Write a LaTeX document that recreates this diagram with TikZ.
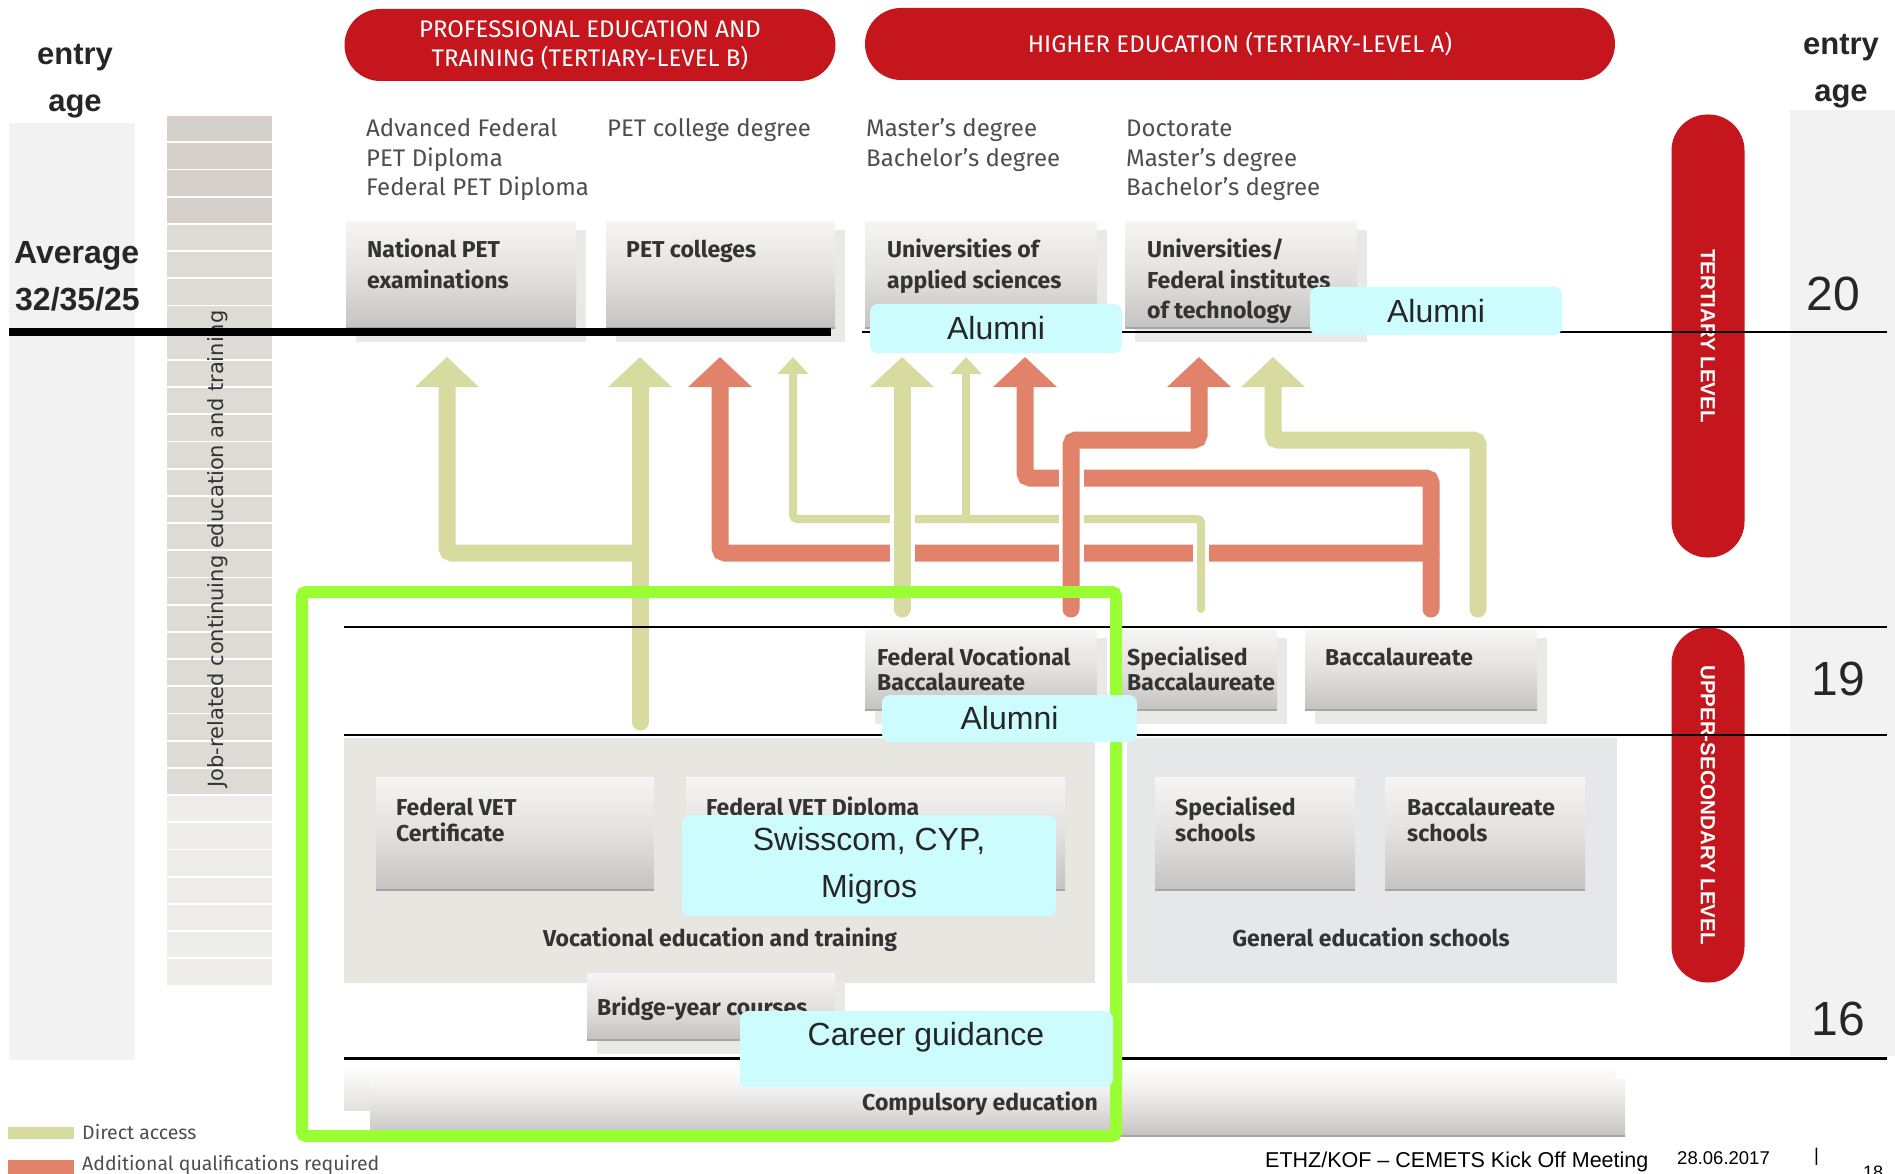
\documentclass[tikz,border=0pt]{standalone}
\usepackage{fontspec}
\setmainfont{Liberation Sans}
\newfontfamily\din{Fira Sans}
\newfontfamily\verd{DejaVu Sans}
\usetikzlibrary{arrows.meta}

\definecolor{pmred}{HTML}{C4161C}
\definecolor{cDirect}{HTML}{D8DBA0}
\definecolor{cAdd}{HTML}{E0836A}
\definecolor{alum}{HTML}{CCFCFD}
\definecolor{lime}{HTML}{99FF33}
\definecolor{colgrey}{HTML}{F2F2F2}
\definecolor{vetbg}{HTML}{E8E6E1}
\definecolor{genbg}{HTML}{E6E7E9}
\definecolor{boxtop}{HTML}{F6F5F3}
\definecolor{boxmid}{HTML}{E2E1DF}
\definecolor{boxbot}{HTML}{C4C3C1}
\definecolor{boxline}{HTML}{A6A6A4}
\definecolor{boxshadow}{HTML}{E9E9E7}
\definecolor{txt}{HTML}{333333}
\definecolor{txtl}{HTML}{4E4E4E}
\definecolor{jobA}{HTML}{D5D1CA}
\definecolor{jobB}{HTML}{DEDBD6}
\definecolor{jobC}{HTML}{EEEDEA}

% shaded box with drop shadow: name, x0, y0, x1, y1 (y grows downwards)
\newcommand\eduBox[5]{%
  \fill[boxshadow] ({#2+10},{#3+8}) rectangle ({#4+10},{#5+14});
  \node[edubox, minimum width={(#4)-(#2)}, minimum height={(#5)-(#3)},
        anchor=north west] (#1) at (#2,#3) {};
  \draw[boxedge] (#1.south west) -- (#1.south east);
}
% same without shadow
\newcommand\eduBoxFlat[5]{%
  \node[edubox, minimum width={(#4)-(#2)}, minimum height={(#5)-(#3)},
        anchor=north west] (#1) at (#2,#3) {};
  \draw[boxedge] (#1.south west) -- (#1.south east);
}

\begin{document}
\begin{tikzpicture}[x=1pt,y=-1pt,
  banner/.style={fill=pmred, rounded corners=36pt, text=white,
    font=\din\fontsize{24}{29}\selectfont, align=center, inner sep=0pt,
    minimum height=72pt},
  vpill/.style={fill=pmred, rounded corners=36pt, text=white,
    font=\bfseries\fontsize{20.5}{20.5}\selectfont, inner sep=0pt,
    minimum height=73pt, rotate=-90},
  edubox/.style={top color=boxtop, bottom color=boxbot, middle color=boxmid,
    inner sep=0pt, outer sep=0pt, draw=none},
  boxedge/.style={draw=boxline, line width=2pt},
  boxtxt/.style={font=\din\bfseries\fontsize{23}{30}\selectfont, text=txt,
    anchor=base west, align=left, inner sep=0pt},
  degtxt/.style={font=\din\fontsize{24}{29.5}\selectfont, text=txtl,
    anchor=base west, align=left, inner sep=0pt},
  captxt/.style={font=\din\bfseries\fontsize{23}{26}\selectfont, text=txt,
    anchor=base, inner sep=0pt},
  alumbox/.style={fill=alum, rounded corners=8pt, inner sep=0pt,
    font=\fontsize{32}{47}\selectfont, text=black!85, align=center},
  dirarrow/.style={draw=cDirect, line width=17pt, rounded corners=5pt,
    line cap=round, -{Triangle[width=62pt,length=30pt]}},
  addarrow/.style={draw=cAdd, line width=17pt, rounded corners=5pt,
    line cap=round, -{Triangle[width=62pt,length=30pt]}},
  thinarrow/.style={draw=cDirect, line width=8pt, rounded corners=4pt,
    line cap=round, -{Triangle[width=30pt,length=17pt]}},
  whitegap/.style={draw=white, line width=#1},
  rule/.style={draw=black, line width=#1},
  agetxt/.style={font=\bfseries\fontsize{31}{31}\selectfont, anchor=base, text=black!85},
  agenum/.style={font=\fontsize{48}{48}\selectfont, text=black!85},
  legtxt/.style={font=\din\fontsize{19.5}{22}\selectfont, text=txtl, anchor=base west, inner sep=0pt}
]
\useasboundingbox (0,0) rectangle (1895,1174);
\fill[white] (0,0) rectangle (1895,1174);

% ---------- side columns ----------
\fill[colgrey] (9,123) rectangle (135,1060);
\fill[colgrey] (1790,110) rectangle (1895,1056);
\node[agetxt] (entryL) at (75,65) {entry};
\node[agetxt] (ageL) at (75,112) {age};
\node[agetxt] (entryR) at (1841,55) {entry};
\node[agetxt] (ageR) at (1841,102) {age};
\node[font=\bfseries\fontsize{32}{32}\selectfont, anchor=base west, inner sep=0pt, text=black!85] (avg) at (14,264) {Average};
\node[font=\bfseries\fontsize{32}{32}\selectfont, anchor=base west, inner sep=0pt, text=black!85] (avgval) at (15,311) {32/35/25};
\node[agenum] (age20) at (1833,294) {20};
\node[agenum] (age19) at (1838,679) {19};
\node[agenum] (age16) at (1838,1019) {16};

% ---------- job-related continuing education column ----------
\foreach \i in {0,...,31}{
  \pgfmathsetmacro\ya{116+27.2*\i}
  \pgfmathsetmacro\yb{\ya+25.4}
  \pgfmathtruncatemacro\tone{\i<4 ? 0 : (\i<25 ? 1 : 2)}
  \ifcase\tone \def\cc{jobA}\or\def\cc{jobB}\else\def\cc{jobC}\fi
  \fill[\cc] (167,\ya) rectangle (272,\yb);
}
\node[rotate=90, anchor=base, inner sep=0pt, font=\verd\fontsize{21}{21}\selectfont, text=black!80] (jobtxt) at (223,549) {Job-related continuing education and training};

% ---------- banners and level pills ----------
\node[banner, minimum width=491pt] (petban) at (590,45) {PROFESSIONAL EDUCATION AND\\TRAINING (TERTIARY-LEVEL B)};
\node[banner, minimum width=750pt] (heban) at (1240,44) {HIGHER EDUCATION (TERTIARY-LEVEL A)};
\node[vpill, minimum width=443pt] (tert) at (1708,336) {TERTIARY LEVEL};
\node[vpill, minimum width=355pt] (upsec) at (1708,805) {UPPER-SECONDARY LEVEL};

% ---------- degrees (anchor = baseline of the last line) ----------
\node[degtxt] (degA) at (366,196) {Advanced Federal\\PET Diploma\\Federal PET Diploma};
\node[degtxt] (degB) at (607,137) {PET college degree};
\node[degtxt] (degC) at (866,166.5) {Master’s degree\\Bachelor’s degree};
\node[degtxt] (degD) at (1126,196) {Doctorate\\Master’s degree\\Bachelor’s degree};

% ---------- tertiary institutions ----------
\eduBox{natpet}{346}{222}{576}{328}
\eduBox{petcol}{606}{222}{835}{328}
\eduBox{uas}{865}{222}{1097}{328}
\eduBox{uni}{1125}{222}{1357}{328}
\node[boxtxt] at (367,288) {National PET\\examinations};
\node[boxtxt] at (626,258) {PET colleges};
\node[boxtxt] at (887,288) {Universities of\\applied sciences};
\node[boxtxt] at (1147,318) {Universities/\\Federal institutes\\of technology};

% ---------- upper-secondary qualifications ----------
\eduBox{fvb}{865}{630}{1097}{710}
\eduBox{sb}{1120}{630}{1277}{710}
\eduBox{bacc}{1305}{630}{1537}{710}
\node[boxtxt, font=\din\bfseries\fontsize{23}{25}\selectfont] at (877,690) {Federal Vocational\\Baccalaureate};
\node[boxtxt, font=\din\bfseries\fontsize{23}{25}\selectfont] at (1127,690) {Specialised\\Baccalaureate};
\node[boxtxt] at (1325,665) {Baccalaureate};

% ---------- schools ----------
\fill[vetbg] (344,738) rectangle (1095,983);
\fill[genbg] (1127,738) rectangle (1617,983);
\eduBoxFlat{vetcert}{376}{777}{654}{890}
\eduBoxFlat{vetdip}{686}{777}{1065}{890}
\eduBoxFlat{specsch}{1155}{777}{1355}{890}
\eduBoxFlat{baccsch}{1385}{777}{1585}{890}
\node[boxtxt, font=\din\bfseries\fontsize{23}{26}\selectfont] at (396,841) {Federal VET\\Certificate};
\node[boxtxt] at (706,815) {Federal VET Diploma};
\node[boxtxt, font=\din\bfseries\fontsize{23}{26}\selectfont] at (1175,841) {Specialised\\schools};
\node[boxtxt, font=\din\bfseries\fontsize{23}{26}\selectfont] at (1407,841) {Baccalaureate\\schools};
\node[captxt] (vetcap) at (720,946) {Vocational education and training};
\node[captxt] (gencap) at (1371,946) {General education schools};

\eduBox{bridge}{587}{973}{835}{1040}
\node[boxtxt] at (597,1015) {Bridge-year courses};

% compulsory education bar (two overlapping shaded slabs)
\node[edubox, top color=white, bottom color=boxmid, minimum width=1271pt, minimum height=45pt, anchor=north west] (compA) at (344,1065) {};
\node[edubox, top color=boxtop!60!white, bottom color=boxbot, middle color=boxmid, minimum width=1255pt, minimum height=58pt, anchor=north west] (comp) at (370,1078) {};
\draw[boxedge] (comp.south west) -- (comp.south east);
\node[captxt] at (980,1110) {Compulsory education};

% ---------- access routes ----------
\coordinate (vetOut) at (640,722);
\coordinate (fvbOutA) at (902,609);
\coordinate (fvbOutB) at (1071,609);
\coordinate (sbOut) at (1201,609);
\coordinate (baccOutA) at (1431,609);
\coordinate (baccOutB) at (1478,609);
\coordinate (jAdd) at (1431,553);
\coordinate (jVet) at (640,553);
\coordinate (jThin) at (966,519);
\coordinate (natpetIn) at (447,357);
\coordinate (petcolInA) at (640,357);
\coordinate (petcolInB) at (720,357);
\coordinate (petcolInC) at (793,357);
\coordinate (uasInA) at (902,357);
\coordinate (uasInB) at (966,357);
\coordinate (uasInC) at (1025,357);
\coordinate (uniInA) at (1199,357);
\coordinate (uniInB) at (1273,357);

% additional qualifications from the baccalaureate
\draw[addarrow] (baccOutA) |- (1025,478) -- (uasInC);
\draw[addarrow] (jAdd) -| (petcolInB);
% specialised baccalaureate (direct, thin)
\draw[whitegap=16pt] (1201,606) -- (1201,528);
\draw[thinarrow] (sbOut) |- (793,519) -- (petcolInC);
\draw[thinarrow] (jThin) -- (uasInB);
% federal vocational baccalaureate
\draw[whitegap=25pt] (902,606) -- (902,500);
\draw[dirarrow] (fvbOutA) -- (uasInA);
\draw[whitegap=25pt] (1071,606) -- (1071,452);
\draw[addarrow] (fvbOutB) |- (1199,440) -- (uniInA);
% baccalaureate (direct)
\draw[dirarrow] (baccOutB) |- (1273,440) -- (uniInB);
% vocational education and training
\draw[dirarrow] (vetOut) -- (petcolInA);
\draw[dirarrow] (jVet) -| (natpetIn);

% ---------- age rules ----------
\draw[rule=8pt] (9,332) -- (831,332);
\draw[rule=2pt] (862,332) -- (1887,332);
\draw[rule=2pt] (344,627) -- (1887,627);
\draw[rule=2pt] (344,735) -- (1887,735);
\draw[rule=3pt] (344,1058) -- (1887,1058);

% ---------- highlighted area ----------
\draw[lime, line width=12pt, rounded corners=4pt] (302,592) rectangle (1116,1136);

% ---------- notes ----------
\node[alumbox, minimum width=252pt, minimum height=49pt] (alumA) at (996,328.5) {Alumni};
\node[alumbox, minimum width=252pt, minimum height=48pt] (alumB) at (1436,311) {Alumni};
\node[alumbox, minimum width=255pt, minimum height=47pt] (alumC) at (1009.5,718.5) {Alumni};
\node[alumbox, minimum width=374pt, minimum height=101pt] (firms) at (869,865.5) {Swisscom, CYP,\\Migros};
\node[alumbox, minimum width=373pt, minimum height=76pt] (career) at (926.5,1049) {};
\node[font=\fontsize{32}{32}\selectfont, text=black!85, inner sep=0pt] (careertxt) at (926,1037) {Career guidance};

% ---------- legend ----------
\fill[cDirect] (8,1127) rectangle (74,1139);
\node[legtxt] (legA) at (82,1139) {Direct access};
\fill[cAdd] (8,1160) rectangle (74,1174);
\node[legtxt] (legB) at (82,1170) {Additional qualifications required};

% ---------- footer ----------
\node[font=\fontsize{21.5}{22}\selectfont, anchor=base west, inner sep=0pt] (foot) at (1265,1167) {ETHZ/KOF – CEMETS Kick Off Meeting};
\node[font=\fontsize{18.5}{19}\selectfont, anchor=base west, inner sep=0pt] (date) at (1677,1164) {28.06.2017};
\node[font=\fontsize{18.5}{19}\selectfont, anchor=base west, inner sep=0pt] (bar) at (1814,1161) {|};
\node[font=\fontsize{18}{19}\selectfont, anchor=north, inner sep=0pt] (page) at (1873,1166) {18};
\end{tikzpicture}
\end{document}
